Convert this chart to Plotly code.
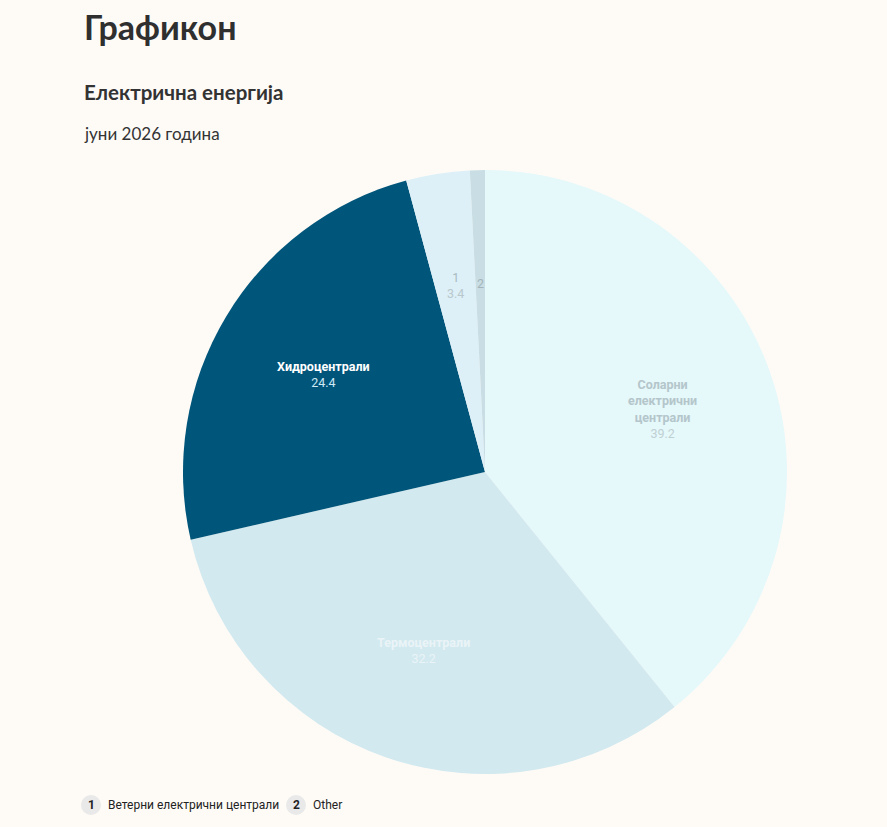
import math
import plotly.graph_objects as go

# Data
labels = ['Соларни електрични централи', 'Термоцентрали', 'Хидроцентрали',
          'Ветерни електрични централи', 'Other']
values = [39.2, 32.2, 24.4, 3.4, 0.8]
short_names = ['Соларни<br>електрични<br>централи', 'Термоцентрали', 'Хидроцентрали', '1', '2']
show_value = [True, True, True, True, False]
bold_name = [True, True, True, False, False]
legend_items = ['1', '2']
legend_labels = ['Ветерни електрични централи', 'Other']

slice_colors = ['#e5f8fa', '#d2e9ef', '#00557a', '#ddf0f8', '#c8dee4']
name_colors = ['#b4c6cb', '#eaf4f7', '#ffffff', '#a9babf', '#a4b4b9']
value_colors = ['#bfd0d4', '#eaf4f7', '#cfe9f5', '#b8c8cc', '#a4b4b9']

BG = '#fefbf7'
W, H = 887, 827

# pie geometry (pixels)
CX, CY, R = 485, 472, 302
LABEL_R = 0.625  # labels sit at this fraction of the radius


def label_text(n, v, s, b, nc, vc):
    name = f'<b>{n}</b>' if b else n
    t = f'<span style="color:{nc}">{name}</span>'
    if s:
        t += f'<br><span style="color:{vc}">{v}</span>'
    return t


fig = go.Figure()

# Pie
fig.add_trace(go.Pie(
    labels=labels,
    values=values,
    textinfo='none',
    marker=dict(colors=slice_colors, line=dict(width=0)),
    sort=False,
    direction='clockwise',
    rotation=0,
    hoverinfo='label+value',
    showlegend=False,
    domain=dict(x=[(CX - R) / W, (CX + R) / W], y=[1 - (CY + R) / H, 1 - (CY - R) / H]),
))

# Slice labels placed at the middle angle of each slice
total = sum(values)
cum = 0
for n, v, s, b, nc, vc in zip(short_names, values, show_value, bold_name, name_colors, value_colors):
    mid = (cum + v / 2) / total * 2 * math.pi
    cum += v
    px = CX + LABEL_R * R * math.sin(mid)
    py = CY - LABEL_R * R * math.cos(mid)
    fig.add_annotation(text=label_text(n, v, s, b, nc, vc), x=px / W, y=1 - py / H,
                       xref='paper', yref='paper', xanchor='center', yanchor='middle',
                       showarrow=False, align='center',
                       font=dict(family='Roboto', size=12.5))

# Headings
fig.add_annotation(text='<b>Графикон</b>', x=82 / W, y=1 - 27 / H, xref='paper', yref='paper',
                   xanchor='left', yanchor='middle', showarrow=False,
                   font=dict(family='Lato', size=34, color='#2f2f2f'))
fig.add_annotation(text='<b>Електрична енергија</b>', x=82 / W, y=1 - 92 / H, xref='paper', yref='paper',
                   xanchor='left', yanchor='middle', showarrow=False,
                   font=dict(family='Lato', size=20.5, color='#333333'))
fig.add_annotation(text='јуни 2026 година', x=82 / W, y=1 - 133 / H, xref='paper', yref='paper',
                   xanchor='left', yanchor='middle', showarrow=False,
                   font=dict(family='Lato', size=17, color='#333333'))

# Custom numbered legend
legend_x = [91, 296]
for num, lab, lx in zip(legend_items, legend_labels, legend_x):
    fig.add_shape(type='circle', xref='paper', yref='paper',
                  x0=(lx - 10) / W, x1=(lx + 10) / W,
                  y0=1 - 815 / H, y1=1 - 795 / H,
                  fillcolor='#e9e9e9', line=dict(width=0))
    fig.add_annotation(text=f'<b>{num}</b>', x=lx / W, y=1 - 805 / H, xref='paper', yref='paper',
                       xanchor='center', yanchor='middle', showarrow=False,
                       font=dict(family='Roboto', size=12, color='#222222'))
    fig.add_annotation(text=lab, x=(lx + 15) / W, y=1 - 805 / H, xref='paper', yref='paper',
                       xanchor='left', yanchor='middle', showarrow=False,
                       font=dict(family='Roboto', size=12, color='#222222'))

fig.update_layout(
    width=W, height=H,
    margin=dict(l=0, r=0, t=0, b=0),
    paper_bgcolor=BG,
    plot_bgcolor=BG,
)

fig.write_html('out.html', config={'displayModeBar': False},
               post_script="document.body.style.margin='0';document.body.style.background='" + BG + "';")
